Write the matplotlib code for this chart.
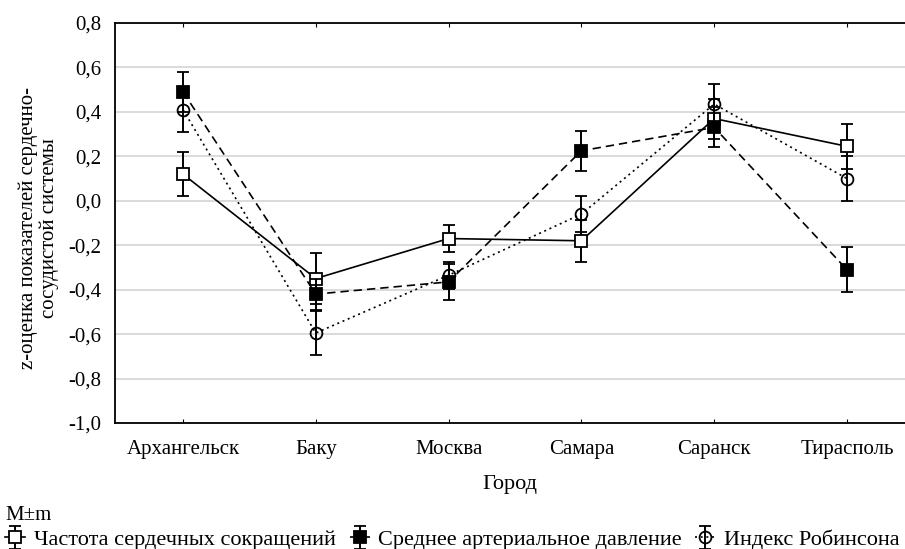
import matplotlib
matplotlib.use("Agg")
import matplotlib.pyplot as plt
import numpy as np

plt.rcParams['font.family'] = ['Liberation Serif', 'DejaVu Serif']

cities = ["Архангельск", "Баку", "Москва", "Самара", "Саранск", "Тирасполь"]

hr_mean = [0.12, -0.35, -0.17, -0.18, 0.37, 0.245]
hr_err = [0.10, 0.115, 0.06, 0.095, 0.09, 0.10]

map_mean = [0.49, -0.42, -0.365, 0.225, 0.33, -0.31]
map_err = [0.09, 0.07, 0.08, 0.09, 0.09, 0.10]

rob_mean = [0.41, -0.595, -0.335, -0.06, 0.435, 0.10]
rob_err = [0.10, 0.10, 0.06, 0.08, 0.09, 0.10]

series_labels = ["Частота сердечных сокращений",
                 "Среднее артериальное давление",
                 "Индекс Робинсона"]

yticks = [-1.0, -0.8, -0.6, -0.4, -0.2, 0.0, 0.2, 0.4, 0.6, 0.8]

fig = plt.figure(figsize=(9.05, 5.49), dpi=100)
ax = fig.add_axes([115 / 905, 1 - 423 / 549, 1 - 115 / 905, (423 - 23) / 549])

x = np.arange(len(cities))
common = dict(color="black", ecolor="black", elinewidth=1.4, capsize=4,
              capthick=1.4, lw=1.2, markeredgecolor="black", markeredgewidth=1.3)

h1 = ax.errorbar(x, hr_mean, yerr=hr_err, ls="-", marker="s", ms=8.5,
                 markerfacecolor="white", zorder=3, **common)
h2 = ax.errorbar(x, map_mean, yerr=map_err, ls=(0, (5, 3)), marker="s", ms=8.5,
                 markerfacecolor="black", zorder=4, **common)
h3 = ax.errorbar(x, rob_mean, yerr=rob_err, ls=(0, (1.2, 2.2)), marker="o", ms=8.5,
                 markerfacecolor="none", zorder=5, **common)

ax.set_xlim(-0.512, 5.437)
ax.set_ylim(-1.0, 0.8)
ax.set_yticks(yticks)
ax.set_yticklabels([f"{v:.1f}".replace(".", ",") for v in yticks], fontsize=15)
ax.set_xticks(x)
ax.set_xticklabels(cities, fontsize=15)
ax.grid(axis="y", color="#d4d4d4", lw=1.2)
ax.set_axisbelow(True)
ax.tick_params(axis="y", length=0, pad=10)
ax.tick_params(axis="x", direction="in", length=3, top=True, pad=12)
ax.spines["right"].set_visible(False)
for s in ["left", "bottom", "top"]:
    ax.spines[s].set_linewidth(1.3)

ax.set_xlabel("Город", fontsize=16, labelpad=12)
fig.text(0.043, (549 - 228) / 549, "z-оценка показателей сердечно-\nсосудистой системы",
         rotation=90, ha="center", va="center", fontsize=15, linespacing=1.1)

fig.text(5 / 905, 1 - 516 / 549, "M±m", fontsize=15, va="center", ha="left")
fig.legend([h1, h2, h3], series_labels, loc="center left",
           bbox_to_anchor=(0.006, 1 - 540 / 549), ncol=3, frameon=False,
           fontsize=16, handlelength=0.9, handletextpad=0.4, columnspacing=0.6,
           borderaxespad=0, borderpad=0)

fig.savefig("out.png", dpi=100)
